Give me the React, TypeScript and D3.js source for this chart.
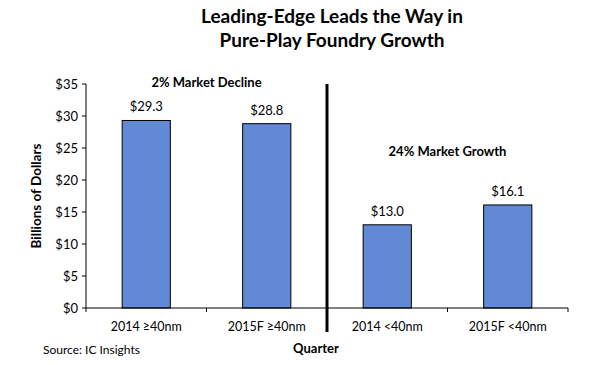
import React from 'react';
import * as d3 from 'd3';

const categories = ['2014 ≥40nm', '2015F ≥40nm', '2014 <40nm', '2015F <40nm'];
const values = [29.3, 28.8, 13.0, 16.1];
const yTicks = [0, 5, 10, 15, 20, 25, 30, 35];
const titleLines = ['Leading-Edge Leads the Way in', 'Pure-Play Foundry Growth'];
const notes = [
  { text: '2% Market Decline', x: 0.5, y: 34.5 },
  { text: '24% Market Growth', x: 2.5, y: 23.7 },
];

const W = 600;
const H = 365;
const font = 'Lato, "Open Sans", sans-serif';

const App = () => {
  const margin = { left: 86, right: 32, top: 84, bottom: 57 };
  const x = d3.scaleBand().domain(categories).range([margin.left, W - margin.right]).paddingInner(0).paddingOuter(0);
  const y = d3.scaleLinear().domain([0, 35]).range([H - margin.bottom, margin.top]);
  const bw = x.bandwidth() * 0.4;
  const y0 = y(0);
  const noteX = (i) => margin.left + x.bandwidth() * (i + 0.5);
  const divX = x(categories[2]);

  return (
    <svg width={W} height={H} style={{ position: 'absolute', left: 0, top: 0, background: '#fff' }}>
      {titleLines.map((t, i) => (
        <text key={t} x={332} y={23 + i * 24} textAnchor="middle" fontFamily={font} fontWeight="bold" fontSize={19} fill="#000">{t}</text>
      ))}
      {/* y axis */}
      <line x1={margin.left} x2={margin.left} y1={y(35)} y2={y0} stroke="#000" />
      {yTicks.map(t => (
        <g key={t}>
          <line x1={margin.left - 4} x2={margin.left} y1={y(t)} y2={y(t)} stroke="#000" />
          <text x={margin.left - 8} y={y(t) + 4.5} textAnchor="end" fontFamily={font} fontSize={13} fill="#000">${t}</text>
        </g>
      ))}
      <text transform={`translate(41,${(y(35) + y0) / 2}) rotate(-90)`} textAnchor="middle" fontFamily={font} fontWeight="bold" fontSize={13.5} fill="#000">Billions of Dollars</text>
      {/* bars */}
      {categories.map((c, i) => (
        <g key={c}>
          <rect x={x(c) + (x.bandwidth() - bw) / 2} y={y(values[i])} width={bw} height={y0 - y(values[i])} fill="#6189d6" stroke="#000" strokeWidth={1} />
          <text x={x(c) + x.bandwidth() / 2} y={y(values[i]) - 9} textAnchor="middle" fontFamily={font} fontSize={13} fill="#000">${values[i].toFixed(1)}</text>
          <text x={x(c) + x.bandwidth() / 2} y={y0 + 23} textAnchor="middle" fontFamily={font} fontSize={12.5} fill="#000">{c}</text>
        </g>
      ))}
      {/* x axis */}
      <line x1={margin.left} x2={W - margin.right} y1={y0} y2={y0} stroke="#000" />
      {categories.map(c => (
        <line key={'t' + c} x1={x(c)} x2={x(c)} y1={y0} y2={y0 + 4} stroke="#000" />
      ))}
      <line x1={W - margin.right} x2={W - margin.right} y1={y0} y2={y0 + 4} stroke="#000" />
      {/* divider */}
      <line x1={divX} x2={divX} y1={y(35)} y2={y0 + 24} stroke="#000" strokeWidth={3} />
      {notes.map(n => (
        <text key={n.text} x={noteX(n.x)} y={y(n.y)} textAnchor="middle" fontFamily={font} fontWeight="bold" fontSize={13} fill="#000">{n.text}</text>
      ))}
      <text x={316} y={353} textAnchor="middle" fontFamily={font} fontWeight="bold" fontSize={13} fill="#000">Quarter</text>
      <text x={43} y={354} fontFamily={font} fontSize={12} fill="#000">Source: IC Insights</text>
    </svg>
  );
};

export default App;
